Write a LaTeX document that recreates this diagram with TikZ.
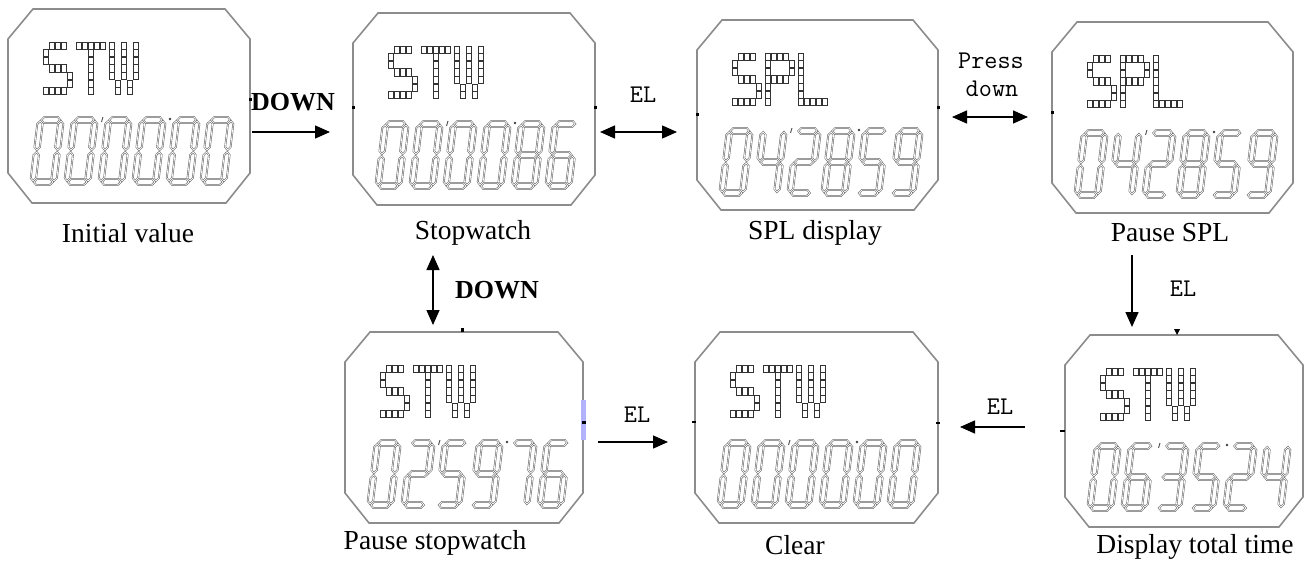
\documentclass[tikz,border=0pt]{standalone}
\usepackage{fontspec}
\setmainfont{Liberation Serif}
\usetikzlibrary{arrows.meta}

\tikzset{
  face/.style={draw=black!45, line width=1.6pt, fill=white},
  seg/.style={draw=black!60, line width=0.55pt, double=white, double distance=0.7pt},
  dotcell/.style={draw=black!80, line width=0.7pt},
  tick/.style={fill=black, draw=none},
  arr/.style={line width=1.4pt, -{Triangle[length=15pt,width=13pt]}},
  darr/.style={line width=1.4pt, {Triangle[length=15pt,width=13pt]}-{Triangle[length=15pt,width=13pt]}},
  lbl/.style={font=\fontsize{27.5}{30}\selectfont, inner sep=0pt},
  keylbl/.style={font=\ttfamily\fontsize{25.5}{28}\selectfont, inner sep=0pt},
  boldlbl/.style={font=\bfseries\fontsize{26}{28}\selectfont, inner sep=0pt},
}

% seven-segment pieces (local units, y downwards, centre height 0)
\newcommand\SgA{\draw[seg] (4,-31)--(7,-34)--(22,-34)--(25,-31)--(22,-28)--(7,-28)--cycle;}
\newcommand\SgG{\draw[seg] (4,0)--(7,-3)--(22,-3)--(25,0)--(22,3)--(7,3)--cycle;}
\newcommand\SgD{\draw[seg] (4,31)--(7,28)--(22,28)--(25,31)--(22,34)--(7,34)--cycle;}
\newcommand\SgF{\draw[seg] (3,-30)--(6,-27)--(6,-4)--(3,-1)--(0,-4)--(0,-27)--cycle;}
\newcommand\SgB{\draw[seg] (26,-30)--(29,-27)--(29,-4)--(26,-1)--(23,-4)--(23,-27)--cycle;}
\newcommand\SgE{\draw[seg] (3,1)--(6,4)--(6,27)--(3,30)--(0,27)--(0,4)--cycle;}
\newcommand\SgC{\draw[seg] (26,1)--(29,4)--(29,27)--(26,30)--(23,27)--(23,4)--cycle;}
\newcommand\lcdd[1]{\ifcase#1
  \SgA\SgB\SgC\SgD\SgE\SgF\or
  \SgB\SgC\or
  \SgA\SgB\SgD\SgE\SgG\or
  \SgA\SgB\SgC\SgD\SgG\or
  \SgB\SgC\SgF\SgG\or
  \SgA\SgC\SgD\SgF\SgG\or
  \SgA\SgC\SgD\SgE\SgF\SgG\or
  \SgA\SgB\SgC\or
  \SgA\SgB\SgC\SgD\SgE\SgF\SgG\or
  \SgA\SgB\SgC\SgD\SgF\SgG\fi}

% dot-matrix letters
\def\mxS{1/0,2/0,3/0,0/1,0/2,1/3,2/3,3/3,4/4,4/5,0/6,1/6,2/6,3/6}
\def\mxT{0/0,1/0,2/0,3/0,4/0,2/1,2/2,2/3,2/4,2/5,2/6}
\def\mxW{0/0,0/1,0/2,0/3,0/4,2/0,2/1,2/2,2/3,2/4,4/0,4/1,4/2,4/3,4/4,1/5,3/5,1/6,3/6}
\def\mxP{0/0,1/0,2/0,3/0,4/1,4/2,1/3,2/3,3/3,0/1,0/2,0/3,0/4,0/5,0/6}
\def\mxL{0/0,0/1,0/2,0/3,0/4,0/5,0/6,1/6,2/6,3/6,4/6}
\newcommand\dm[2]{\foreach \c/\r in #2 {\draw[dotcell] ({#1+\c*6},{\r*7.6}) rectangle ++(5.4,7.2);}}
\newcommand\wSTW{\dm{0}{\mxS}\dm{33}{\mxT}\dm{66}{\mxW}}
\newcommand\wSPL{\dm{0}{\mxS}\dm{33}{\mxP}\dm{66}{\mxL}}

% face: name, x, y, w, h, word, digits
\newcommand\lcdface[7]{%
  \begin{scope}[shift={(#2,#3)}]
    \draw[face] (0,30) -- (25,0) -- (#4-25,0) -- (#4,30) -- (#4,#5-30) -- (#4-24,#5) -- (24,#5) -- (0,#5-30) -- cycle;
    \node[inner sep=0pt, minimum width=#4pt, minimum height=#5pt, anchor=north west] (#1) at (0,0) {};
    \begin{scope}[shift={(35,33)}] #6 \end{scope}
    \foreach \d [count=\i from 0] in {#7} {
      \begin{scope}[shift={(26+\i*34,142)}, xslant=0.12, xscale=0.9] \lcdd{\d} \end{scope}
    }
    \draw[black!70, line width=0.9pt] (95,108) -- (93.5,113);
    \fill[black!75] (162,110) circle (1.4);
  \end{scope}}

\begin{document}
\begin{tikzpicture}[x=1pt,y=-1pt]
\useasboundingbox (0,0) rectangle (1316,561);
\fill[white] (0,0) rectangle (1316,561);

% faces
\lcdface{f1}{8}{9}{242}{194}{\wSTW}{0,0,0,0,0,0}
\lcdface{f2}{353}{13}{242}{192}{\wSTW}{0,0,0,0,8,6}
\lcdface{f3}{697}{20}{241}{190}{\wSPL}{0,4,2,8,5,9}
\lcdface{f4}{1052}{22}{241}{191}{\wSPL}{0,4,2,8,5,9}
\lcdface{f5}{345}{332}{238}{191}{\wSTW}{0,2,5,9,7,6}
\lcdface{f6}{695}{332}{243}{191}{\wSTW}{0,0,0,0,0,0}
\lcdface{f7}{1065}{335}{238}{192}{\wSTW}{0,6,3,5,2,4}

% small marks on the faces
\fill[tick] (248.5,98.5) rectangle ++(3,3);
\fill[tick] (351.5,106.5) rectangle ++(3,3);
\fill[tick] (593.5,106.5) rectangle ++(3,3);
\fill[tick] (695.5,113.5) rectangle ++(3,3);
\fill[tick] (936.5,106.5) rectangle ++(3,3);
\fill[tick] (1050.5,111.5) rectangle ++(3,3);
\fill[tick] (460.5,328) rectangle ++(3,4);
\fill[blue!30] (581,400) rectangle (586,440);
\fill[tick] (582,420.5) rectangle ++(4,3);
\fill[tick] (692,421) rectangle ++(4,2);
\fill[tick] (936,421.5) rectangle ++(4,2);
\fill[tick] (1174,329) -- (1180,329) -- (1177,335) -- cycle;
\fill[tick] (1060,430) rectangle ++(5,2);

% captions
\node[lbl] (c1) at (128,233) {Initial value};
\node[lbl] (c2) at (473,233) {Stopwatch};
\node[lbl] (c3) at (815,233) {SPL display};
\node[lbl] (c4) at (1170,233) {Pause SPL};
\node[lbl] (c5) at (435,543) {Pause stopwatch};
\node[lbl] (c6) at (795,545) {Clear};
\node[lbl] (c7) at (1195,547) {Display total time};

% connectors
\coordinate (a1s) at (252,132); \coordinate (a1e) at (330,132);
\draw[arr] (a1s) -- (a1e);
\node[boldlbl] (k1) at (293,102) {DOWN};

\coordinate (a2s) at (600,132); \coordinate (a2e) at (677,132);
\draw[darr] (a2s) -- (a2e);
\node[keylbl] (k2) at (643,95) {EL};

\coordinate (a3s) at (952,117); \coordinate (a3e) at (1028,117);
\draw[darr] (a3s) -- (a3e);
\node[keylbl] (k3a) at (991,61) {Press};
\node[keylbl] (k3b) at (992,89) {down};

\coordinate (a4s) at (1132,255); \coordinate (a4e) at (1132,327);
\draw[arr] (a4s) -- (a4e);
\node[keylbl] (k4) at (1183,289) {EL};

\coordinate (a5s) at (1025,427); \coordinate (a5e) at (960,427);
\draw[arr] (a5s) -- (a5e);
\node[keylbl] (k5) at (1000,407) {EL};

\coordinate (a6s) at (433,255); \coordinate (a6e) at (433,325);
\draw[darr] (a6s) -- (a6e);
\node[boldlbl] (k6) at (497,290) {DOWN};

\coordinate (a7s) at (598,442); \coordinate (a7e) at (668,442);
\draw[arr] (a7s) -- (a7e);
\node[keylbl] (k7) at (637,415) {EL};
\end{tikzpicture}
\end{document}
